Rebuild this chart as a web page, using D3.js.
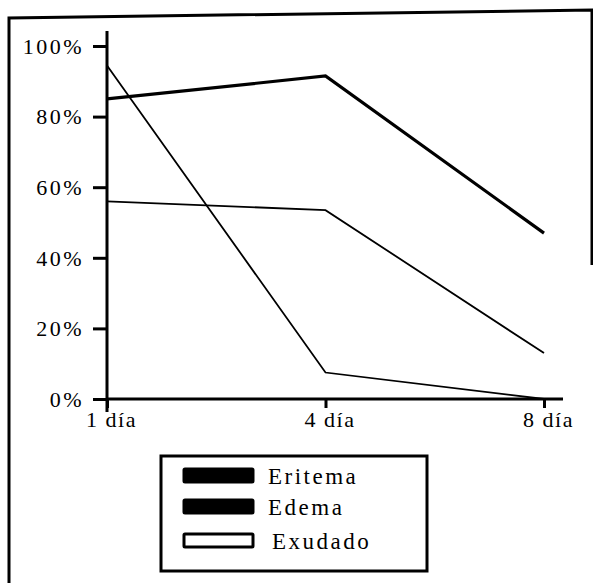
<!DOCTYPE html>
<html>
<head>
<meta charset="utf-8">
<script src="https://cdn.jsdelivr.net/npm/d3@7"></script>
<style>
  html, body { margin: 0; padding: 0; background: #fff; }
  svg { display: block; }
</style>
</head>
<body>
<svg id="chart" width="593" height="583"></svg>
<script>
// Time points and percentages per sign
const days = ["1 día", "4 día", "8 día"];
const eritema = [85, 91.5, 47];
const edema = [56, 53.5, 13];
const exudado = [94.5, 7.5, 0];
const yTicks = [0, 20, 40, 60, 80, 100];
const legendLabels = ["Eritema", "Edema", "Exudado"];

const SERIF = "'Liberation Serif', 'Times New Roman', serif";
const svg = d3.select("#chart");

// Outer frame (open at the bottom)
svg.append("path")
  .attr("d", "M9,583 L9,18 L592,10 L592,265")
  .attr("fill", "none").attr("stroke", "#000").attr("stroke-width", 3);

const x = d3.scalePoint().domain(days).range([107, 544]);
const y = d3.scaleLinear().domain([0, 100]).range([399, 46]);

// Y axis
const yAxis = svg.append("g").attr("transform", "translate(107,0)")
  .call(d3.axisLeft(y).tickValues(yTicks).tickFormat(d => d + "%").tickSize(14).tickPadding(9));
yAxis.attr("font-family", null).attr("font-size", null);
yAxis.select(".domain").remove();
yAxis.selectAll(".tick line").attr("stroke", "#000").attr("stroke-width", 3);
yAxis.selectAll(".tick text")
  .attr("font-family", SERIF).attr("font-size", 22).attr("letter-spacing", 2.5)
  .attr("fill", "#000").attr("dy", "0.33em");
svg.append("line").attr("x1", 107).attr("x2", 107).attr("y1", 31).attr("y2", 412)
  .attr("stroke", "#000").attr("stroke-width", 3);

// X axis
const xAxis = svg.append("g").attr("transform", "translate(0,399)")
  .call(d3.axisBottom(x).tickSize(9).tickPadding(3));
xAxis.attr("font-family", null).attr("font-size", null);
xAxis.select(".domain").remove();
xAxis.selectAll(".tick line").attr("stroke", "#000").attr("stroke-width", 3);
xAxis.selectAll(".tick text")
  .attr("font-family", SERIF).attr("font-size", 22).attr("letter-spacing", 1.5)
  .attr("fill", "#000").attr("dx", 4);
svg.append("line").attr("x1", 107).attr("x2", 563).attr("y1", 399).attr("y2", 399)
  .attr("stroke", "#000").attr("stroke-width", 3);

// Series lines
const line = d3.line().x((d, i) => x(days[i])).y(d => y(d));
const series = [
  { values: eritema, width: 3.2 },
  { values: edema, width: 1.8 },
  { values: exudado, width: 1.8 }
];
svg.selectAll("path.series").data(series).join("path")
  .attr("class", "series")
  .attr("d", d => line(d.values))
  .attr("fill", "none").attr("stroke", "#000")
  .attr("stroke-width", d => d.width)
  .attr("stroke-linejoin", "miter");

// Legend
const legend = svg.append("g");
legend.append("rect").attr("x", 161).attr("y", 456).attr("width", 266).attr("height", 115)
  .attr("fill", "#fff").attr("stroke", "#000").attr("stroke-width", 3);
const swatchFill = ["#000", "#000", "#fff"];
const rowY = [469, 500, 534];
const items = legend.selectAll("g.item").data(legendLabels).join("g").attr("class", "item");
items.append("rect")
  .attr("x", 184).attr("y", (d, i) => rowY[i])
  .attr("width", 69).attr("height", 13).attr("rx", 1)
  .attr("fill", (d, i) => swatchFill[i]).attr("stroke", "#000").attr("stroke-width", 3);
items.append("text")
  .attr("x", (d, i) => i === 2 ? 272 : 268)
  .attr("y", (d, i) => rowY[i] + 15)
  .attr("font-family", SERIF).attr("font-size", 23).attr("letter-spacing", 2.5)
  .attr("fill", "#000")
  .text(d => d);
</script>
</body>
</html>
